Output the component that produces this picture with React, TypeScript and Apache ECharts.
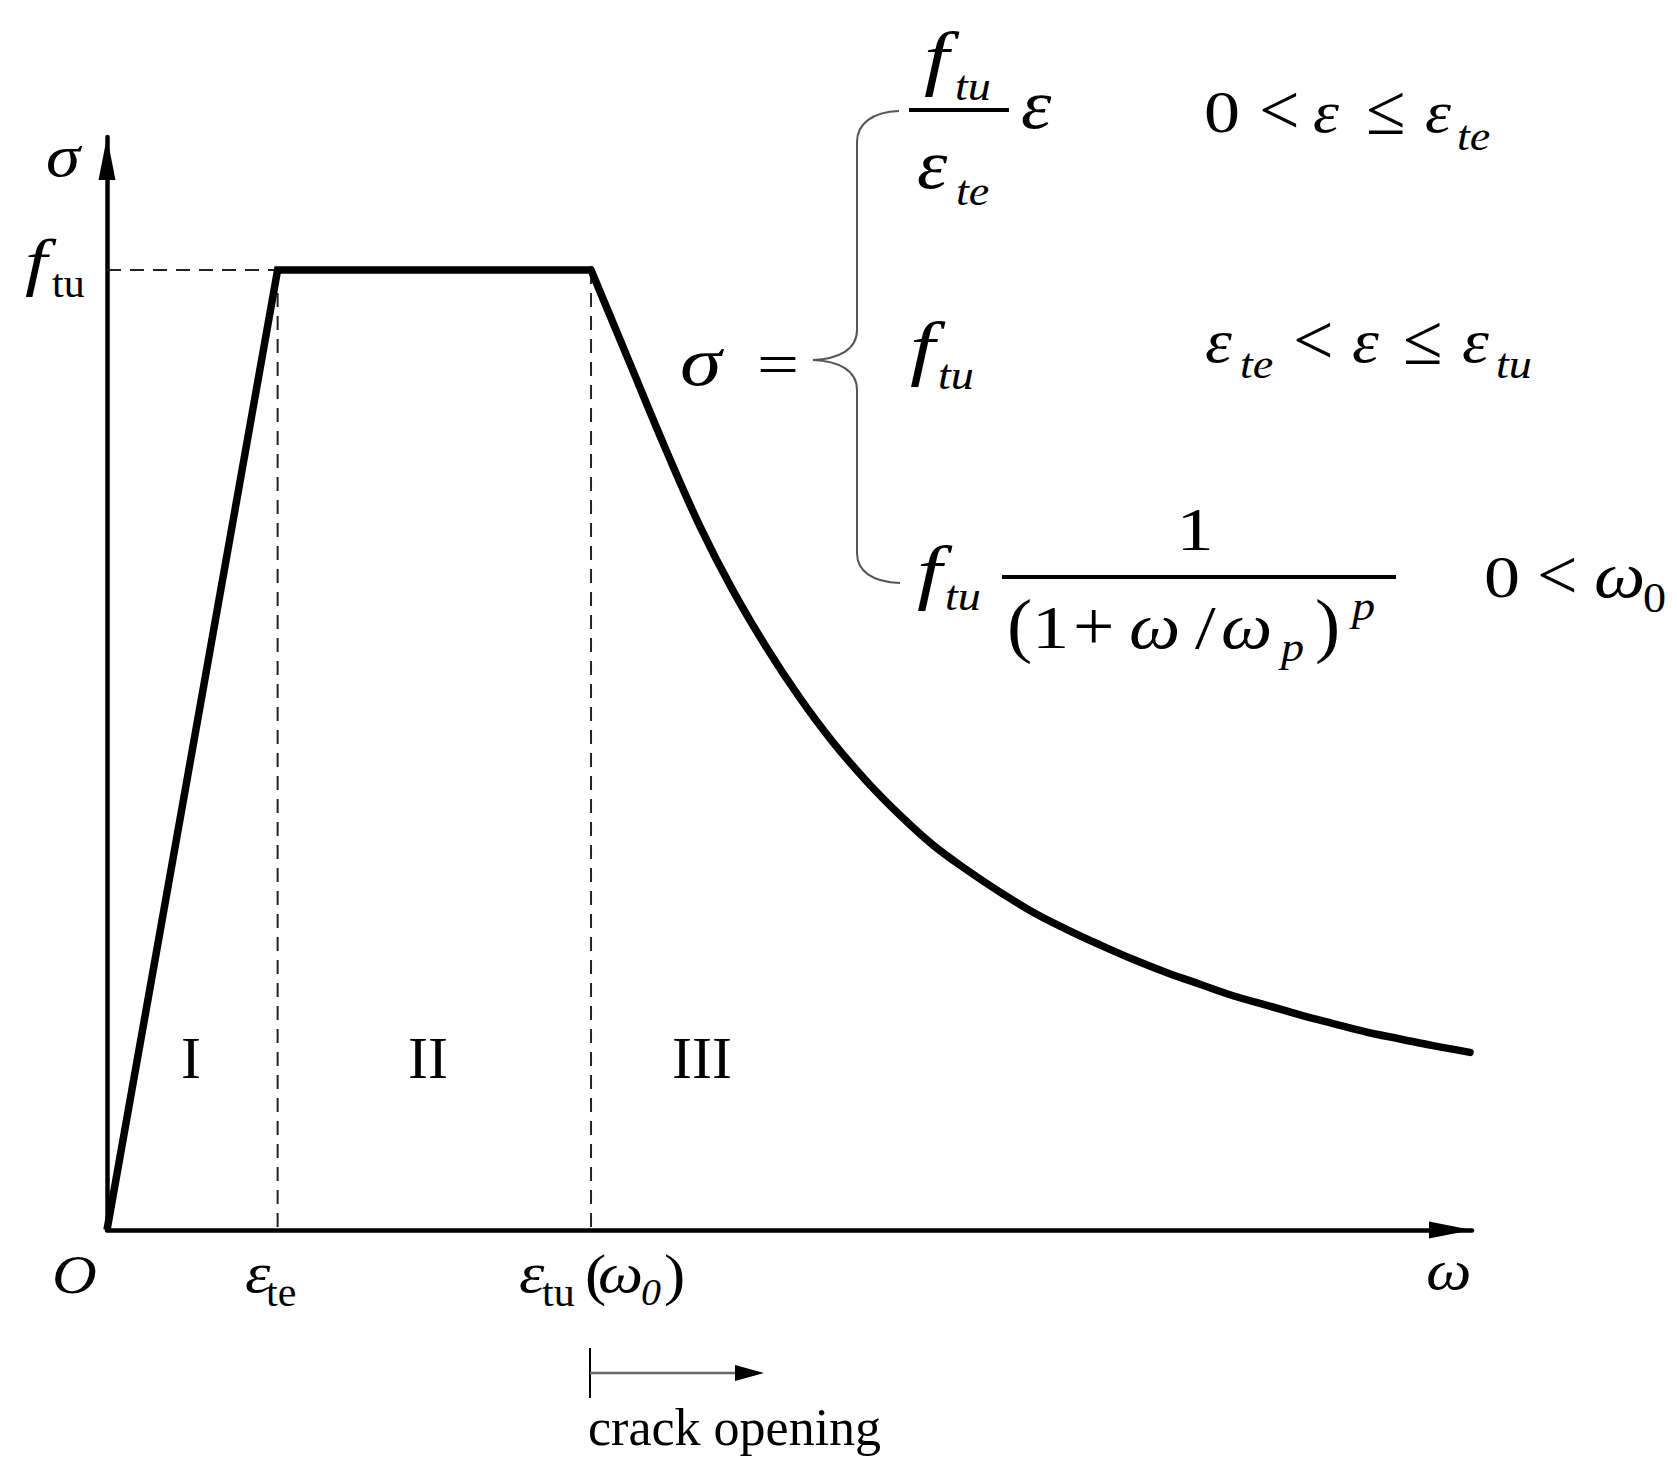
import React, { useEffect, useRef } from "react";
import * as echarts from "echarts";

// ---- data (schematic units: x = strain / crack opening, y = stress / f_tu) ----
const X_MAX = 10;
const Y_MAX = 1.1385;
const F_TU = 1;
const EPS_TE = 1.25;
const EPS_TU = 3.546;

const RAMP_X = [0, EPS_TE, EPS_TU];
const RAMP_Y = [0, F_TU, F_TU];

const SOFT_X = [3.546, 3.824, 4.103, 4.344, 4.586, 4.835, 5.077, 5.319, 5.568, 5.81, 6.051, 6.3, 6.542, 6.784, 7.033, 7.275, 7.516, 7.766, 8.007, 8.249, 8.498, 8.74, 8.982, 9.231, 9.473, 9.714, 9.985];
const SOFT_Y = [1.0, 0.905, 0.81, 0.733, 0.666, 0.606, 0.554, 0.508, 0.467, 0.432, 0.401, 0.375, 0.352, 0.331, 0.313, 0.297, 0.282, 0.268, 0.256, 0.244, 0.234, 0.224, 0.215, 0.206, 0.199, 0.192, 0.185];

const REGION_LABELS = ["I", "II", "III"];

const BRACE_D =
  "M899,111 C872,112 857,124 857,142 L857,330 C857,350 838,359 813,360 C838,361 857,370 857,390 L857,553 C857,571 872,582 900,583";
echarts.graphic.registerShape("brace", echarts.graphic.extendPath(BRACE_D, {}));

const SERIF = '"Liberation Serif", "Times New Roman", Times, serif';

function T(text: string, x: number, base: number, fs: number, italic = false, sx = 1, align = "left", color = "#000") {
  return {
    type: "text",
    x,
    y: base - 0.3375 * fs,
    scaleX: sx,
    silent: true,
    style: {
      text,
      fontSize: fs,
      fontFamily: SERIF,
      fontStyle: italic ? "italic" : "normal",
      fill: color,
      align,
      verticalAlign: "middle",
      textAlign: align,
      textVerticalAlign: "middle",
    },
  };
}

function L(x1: number, y1: number, x2: number, y2: number, w: number, color = "#000") {
  return {
    type: "line",
    silent: true,
    shape: { x1, y1, x2, y2 },
    style: { stroke: color, lineWidth: w },
  };
}

function zip(xs: number[], ys: number[]) {
  return xs.map((x, i) => [x, ys[i]]);
}

export default function App() {
  const ref = useRef<HTMLDivElement>(null);
  useEffect(() => {
    if (!ref.current) return;
    const chart = echarts.init(ref.current, undefined, { renderer: "svg" });

    const axisLine = {
      show: true,
      symbol: ["none", "triangle"],
      symbolSize: [17, 43],
      symbolOffset: [0, -21.5],
      lineStyle: { color: "#000", width: 4.5 },
    };

    const dash = { color: "#222", width: 2, type: [14, 9] };

    const graphics: any[] = [
      // axis labels
      T("σ", 46, 176, 60, true, 1.15),
      T("f", 25, 283, 64, true, 1.25),
      T("tu", 52, 297, 40, false, 1.05),
      T("O", 52, 1293, 54, true, 1.15),
      T("ε", 245, 1292, 56, true, 1.15),
      T("te", 266, 1306, 40, false, 1.05),
      T("ε", 519, 1292, 56, true, 1.15),
      T("tu", 542, 1306, 40, false, 1.05),
      T("(", 585, 1294, 58, false, 1.1),
      T("ω", 598, 1292, 58, true, 1.1),
      T("0", 641, 1305, 38, true, 1.05),
      T(")", 664, 1294, 58, false, 1.1),
      T("ω", 1426, 1289, 56, true, 1.15),
      // region labels
      T(REGION_LABELS[0], 191, 1078, 60, false, 1, "center"),
      T(REGION_LABELS[1], 428, 1078, 60, false, 1, "center"),
      T(REGION_LABELS[2], 702, 1078, 60, false, 1, "center"),
      // crack opening arrow
      L(590, 1348, 590, 1398, 2),
      L(590, 1373, 740, 1373, 2.5, "#666"),
      {
        type: "polygon",
        silent: true,
        shape: { points: [[735, 1365], [764, 1373], [735, 1381]] },
        style: { fill: "#000" },
      },
      T("crack opening", 588, 1445, 52, false, 1),
      // formula
      T("σ", 680, 385, 70, true, 1.2),
      T("=", 757, 385, 62, false, 1.2),
      { type: "brace", x: 0, y: 0, silent: true, style: { fill: "none", stroke: "#555", lineWidth: 2 } },
      // row 1
      T("f", 924, 82, 72, true, 1.25),
      T("tu", 955, 100, 42, true, 1.1),
      L(909, 110, 1009, 110, 4),
      T("ε", 1021, 128, 70, true, 1.1),
      T("ε", 917, 188, 70, true, 1.1),
      T("te", 956, 205, 42, true, 1.1),
      T("0", 1204, 132, 60, false, 1.2),
      T("<", 1259, 134, 72, false, 1.0),
      T("ε", 1313, 132, 60, true, 1.1),
      T("≤", 1366, 134, 72, false, 1.0),
      T("ε", 1425, 132, 60, true, 1.1),
      T("te", 1457, 150, 42, true, 1.1),
      // row 2
      T("f", 910, 372, 72, true, 1.25),
      T("tu", 938, 389, 42, true, 1.1),
      T("ε", 1205, 362, 62, true, 1.1),
      T("te", 1240, 378, 42, true, 1.1),
      T("<", 1293, 364, 72, false, 1.0),
      T("ε", 1352, 362, 62, true, 1.1),
      T("≤", 1403, 364, 72, false, 1.0),
      T("ε", 1462, 362, 62, true, 1.1),
      T("tu", 1496, 378, 42, true, 1.1),
      // row 3
      T("f", 917, 596, 72, true, 1.25),
      T("tu", 945, 610, 42, true, 1.1),
      L(1002, 577, 1396, 577, 4),
      T("1", 1195, 550, 62, false, 1.2, "center"),
      T("(", 1007, 649, 72, false, 1.05),
      T("1", 1032, 648, 62, false, 1.2),
      T("+", 1073, 650, 70, false, 1.05),
      T("ω", 1129, 648, 66, true, 1.1),
      T("/", 1195, 648, 62, false, 1.2),
      T("ω", 1221, 648, 66, true, 1.1),
      T("p", 1281, 661, 42, true, 1.1),
      T(")", 1315, 649, 72, false, 1.05),
      T("p", 1352, 620, 42, true, 1.1),
      T("0", 1484, 597, 60, false, 1.2),
      T("<", 1537, 599, 72, false, 1.0),
      T("ω", 1594, 597, 66, true, 1.1),
      T("0", 1643, 612, 42, false, 1.1),
    ];

    chart.setOption({
      animation: false,
      backgroundColor: "#fff",
      grid: { left: 107, top: 137, width: 1365, height: 1093, containLabel: false },
      xAxis: {
        type: "value",
        min: 0,
        max: X_MAX,
        axisLine,
        axisTick: { show: false },
        axisLabel: { show: false },
        splitLine: { show: false },
      },
      yAxis: {
        type: "value",
        min: 0,
        max: Y_MAX,
        axisLine,
        axisTick: { show: false },
        axisLabel: { show: false },
        splitLine: { show: false },
      },
      series: [
        {
          type: "line",
          data: [[0, F_TU], [EPS_TE, F_TU]],
          showSymbol: false,
          silent: true,
          lineStyle: dash,
          z: 1,
        },
        {
          type: "line",
          data: [[EPS_TE, F_TU], [EPS_TE, 0]],
          showSymbol: false,
          silent: true,
          lineStyle: dash,
          z: 1,
        },
        {
          type: "line",
          data: [[EPS_TU, F_TU], [EPS_TU, 0]],
          showSymbol: false,
          silent: true,
          lineStyle: dash,
          z: 1,
        },
        {
          type: "line",
          data: zip(RAMP_X, RAMP_Y),
          showSymbol: false,
          silent: true,
          lineStyle: { color: "#000", width: 7.5, join: "miter" },
          z: 3,
        },
        {
          type: "line",
          data: zip(SOFT_X, SOFT_Y),
          showSymbol: false,
          smooth: 0.4,
          silent: true,
          lineStyle: { color: "#000", width: 7.5, cap: "round" },
          z: 3,
        },
      ],
      graphic: { elements: graphics },
    });

    return () => chart.dispose();
  }, []);

  return (
    <div
      ref={ref}
      style={{ position: "absolute", left: 0, top: 0, width: 1677, height: 1475, background: "#fff" }}
    />
  );
}
